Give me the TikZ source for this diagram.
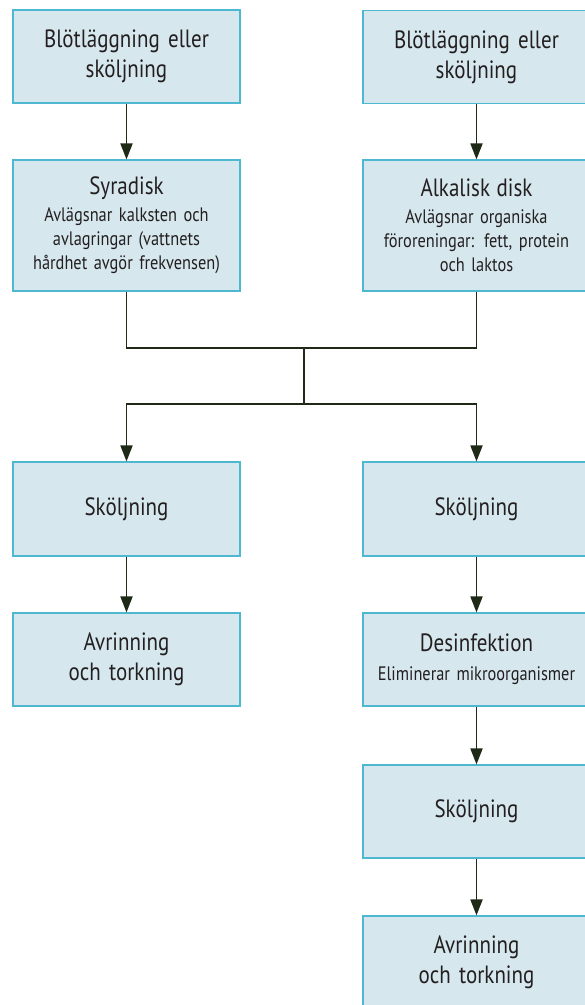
\documentclass[tikz,border=0pt]{standalone}
\usepackage{fontspec}
\setmainfont{PT Sans}[FakeStretch=0.84]
\usetikzlibrary{arrows.meta}
\definecolor{boxfill}{HTML}{D6E8EE}
\definecolor{boxline}{HTML}{4DB8D0}
\definecolor{arrowc}{HTML}{1F2A16}
\definecolor{txt}{HTML}{231F20}
\newcommand{\tightsp}{\spaceskip=0.19em plus 0.05em minus 0.02em\relax}
\newcommand{\ttl}[1]{{\fontsize{25}{30}\selectfont\tightsp #1}}
\begin{document}
\begin{tikzpicture}[x=1pt,y=-1pt,
  box/.style={draw=boxline, fill=boxfill, line width=1.1pt, minimum width=227pt,
    minimum height=93pt, inner sep=0pt, align=center, text=txt, text width=225pt,
    font=\fontsize{25}{30}\selectfont\tightsp},
  sbox/.style={box, font=\fontsize{19.5}{24}\selectfont\tightsp},
  arr/.style={-{Triangle[length=16pt,width=12pt]}, line width=1.8pt, draw=arrowc},
  ln/.style={line width=1.8pt, draw=arrowc}]
\useasboundingbox (0,0) rectangle (585,1005);
\clip (0,0) rectangle (585,1005);
\node[box] (b1) at (126.5,56.5) {Blötläggning eller\\sköljning};
\node[box] (b2) at (476.5,57) {Blötläggning eller\\sköljning};
\node[sbox, minimum height=131pt] (s1) at (126.5,225.5) {\ttl{Syradisk}\\[3pt]Avlägsnar kalksten och\\avlagringar (vattnets\\hårdhet avgör frekvensen)};
\node[sbox, minimum height=131pt] (s2) at (476.5,225.5) {\ttl{Alkalisk disk}\\[3pt]Avlägsnar organiska\\föroreningar: fett, protein\\och laktos};
\coordinate (j1) at (304,348);
\coordinate (j2) at (304,404);
\node[box, minimum height=94pt] (r1) at (126.5,509) {Sköljning};
\node[box, minimum height=94pt] (r2) at (476.5,509) {Sköljning};
\node[box] (a1) at (126.5,659.5) {Avrinning\\och torkning};
\node[sbox] (d2) at (476.5,659.5) {\ttl{Desinfektion}\\[5pt]Eliminerar mikroorganismer};
\node[box] (r3) at (476.5,811.5) {Sköljning};
\node[box] (a2) at (476.5,962.5) {Avrinning\\och torkning};
\draw[arr] (b1) -- (s1);
\draw[arr] (b2) -- (s2);
\draw[ln] (s1.south) |- (j1) -| (s2.south);
\draw[ln] (j1) -- (j2);
\draw[arr] (j2) -| (r1.north);
\draw[arr] (j2) -| (r2.north);
\draw[arr] (r1) -- (a1);
\draw[arr] (r2) -- (d2);
\draw[arr] (d2) -- (r3);
\draw[arr] (r3) -- (a2);
\end{tikzpicture}
\end{document}
